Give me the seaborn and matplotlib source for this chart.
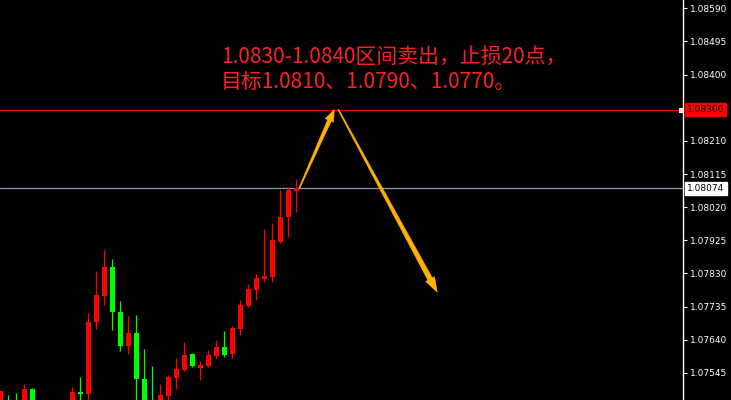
import numpy as np
import pandas as pd
import seaborn as sns
import matplotlib
matplotlib.use('Agg')
import matplotlib.pyplot as plt
from matplotlib.patches import Polygon

# K线数据 (开, 高, 低, 收)
opens = [1.07430, 1.07440, 1.07435, 1.07410, 1.07498, 1.07430, 1.07380, 1.07400, 1.07370, 1.07420,
         1.07490, 1.07484, 1.07691, 1.07766, 1.07848, 1.07720, 1.07622, 1.07659, 1.07528, 1.07460,
         1.07440, 1.07479, 1.07531, 1.07554, 1.07599, 1.07559, 1.07565, 1.07594, 1.07619, 1.07599,
         1.07671, 1.07737, 1.07783, 1.07815, 1.07820, 1.07921, 1.07992, 1.08067]
highs = [1.07496, 1.07481, 1.07487, 1.07513, 1.07501, 1.07455, 1.07420, 1.07440, 1.07430, 1.07504,
         1.07533, 1.07716, 1.07837, 1.07897, 1.07871, 1.07751, 1.07708, 1.07710, 1.07613, 1.07564,
         1.07513, 1.07538, 1.07587, 1.07633, 1.07602, 1.07579, 1.07610, 1.07639, 1.07665, 1.07680,
         1.07753, 1.07799, 1.07828, 1.07957, 1.07974, 1.08069, 1.08078, 1.08100]
lows = [1.07400, 1.07390, 1.07380, 1.07390, 1.07410, 1.07360, 1.07330, 1.07350, 1.07340, 1.07400,
        1.07440, 1.07455, 1.07670, 1.07739, 1.07668, 1.07607, 1.07599, 1.07450, 1.07420, 1.07400,
        1.07420, 1.07460, 1.07498, 1.07551, 1.07562, 1.07525, 1.07563, 1.07588, 1.07591, 1.07588,
        1.07654, 1.07733, 1.07754, 1.07806, 1.07806, 1.07918, 1.07935, 1.08007]
closes = [1.07493, 1.07420, 1.07400, 1.07498, 1.07430, 1.07380, 1.07400, 1.07370, 1.07420, 1.07490,
          1.07485, 1.07690, 1.07768, 1.07848, 1.07720, 1.07622, 1.07659, 1.07528, 1.07450, 1.07430,
          1.07481, 1.07533, 1.07556, 1.07596, 1.07565, 1.07567, 1.07596, 1.07619, 1.07597, 1.07673,
          1.07739, 1.07785, 1.07817, 1.07822, 1.07926, 1.07992, 1.08069, 1.08074]

tick_prices = [1.08590, 1.08495, 1.08400, 1.08210, 1.08115, 1.08020,
               1.07925, 1.07830, 1.07735, 1.07640, 1.07545]
sell_level = 1.08300
last_price = 1.08074

# 箭头 (K线序号, 价格)
arrow_up = [(37.36, 1.08074), (41.74, 1.08300)]
arrow_down = [(42.24, 1.08300), (54.61, 1.07776)]

line1 = '1.0830-1.0840区间卖出，止损20点，'
line2 = '目标1.0810、1.0790、1.0770。'

df = pd.DataFrame({'open': opens, 'high': highs, 'low': lows, 'close': closes})
df['idx'] = np.arange(len(df))
df['up'] = df['close'] >= df['open']

sns.set_theme(style='dark', rc={'axes.facecolor': 'black', 'figure.facecolor': 'black'})
plt.rcParams['font.family'] = ['Noto Sans CJK SC', 'DejaVu Sans']

fig = plt.figure(figsize=(7.31, 4.0), dpi=100)
ax = fig.add_axes([0, 0, 683 / 731, 1])
ax.set_facecolor('black')

colors = np.where(df['up'], '#ff0000', '#00ff00')
ax.vlines(df['idx'], df['low'], df['high'], colors=colors, linewidth=0.9, zorder=2)
body_lo = np.minimum(df['open'], df['close'])
body_h = np.maximum(np.abs(df['close'] - df['open']), 0.00003)
ax.bar(df['idx'], body_h, bottom=body_lo, width=0.62, color=colors, linewidth=0, zorder=3)

ax.axhline(sell_level, color='#ff0000', linewidth=0.8, zorder=1)
ax.axhline(last_price, color='#8a98aa', linewidth=0.9, zorder=1)

ax.set_xlim(-0.05, 85.33)
ax.set_ylim(1.07467, 1.08614)
ax.plot([85.04], [sell_level], marker='s', markersize=3.4, mfc='#ffd0d0', mec='white',
        mew=0.8, zorder=5, clip_on=False)

ax.yaxis.tick_right()
ax.set_yticks(tick_prices)
ax.set_yticklabels([f'{p:.5f}' for p in tick_prices], color='white', fontsize=6.5,
                   family=['DejaVu Sans'])
ax.tick_params(axis='y', colors='white', length=3, width=0.8, pad=2, direction='out')
ax.set_xticks([])
ax.grid(False)
for s in ['left', 'top', 'bottom']:
    ax.spines[s].set_visible(False)
ax.spines['right'].set_color('white')
ax.spines['right'].set_linewidth(1.0)

# 价格标签
ax.annotate(f'{sell_level:.5f}', xy=(1, sell_level), xycoords=('axes fraction', 'data'),
            xytext=(3, 0), textcoords='offset points', ha='left', va='center',
            fontsize=6.5, color='black', family=['DejaVu Sans'],
            bbox=dict(boxstyle='square,pad=0.2', fc='#ff0000', ec='#ff0000'), zorder=6,
            annotation_clip=False)
ax.annotate(f'{last_price:.5f}', xy=(1, last_price), xycoords=('axes fraction', 'data'),
            xytext=(3, 0), textcoords='offset points', ha='left', va='center',
            fontsize=6.5, color='black', family=['DejaVu Sans'],
            bbox=dict(boxstyle='square,pad=0.25', fc='white', ec='white'), zorder=6,
            annotation_clip=False)


def taper_arrow(ax, start, end, color, tail_w=1.0, shaft_w=4.5, head_w=10.0, head_l=14.0):
    p0 = ax.transData.transform(start)
    p1 = ax.transData.transform(end)
    d = p1 - p0
    u = d / np.hypot(*d)
    n = np.array([-u[1], u[0]])
    base = p1 - u * head_l
    pts = [p0 + n * tail_w / 2, base + n * shaft_w / 2, base + n * head_w / 2, p1,
           base - n * head_w / 2, base - n * shaft_w / 2, p0 - n * tail_w / 2]
    pts = ax.transData.inverted().transform(pts)
    ax.add_patch(Polygon(pts, closed=True, fc=color, ec=color, lw=0.4, zorder=4))


taper_arrow(ax, arrow_up[0], arrow_up[1], '#ffb000', shaft_w=4.0, head_w=9.0, head_l=12.0)
taper_arrow(ax, arrow_down[0], arrow_down[1], '#ffb000', shaft_w=5.0, head_w=10.0, head_l=15.0)

fig.text(221 / 731, 1 - 56.5 / 400, line1, color='#ff2020', fontsize=15, ha='left', va='center')
fig.text(221 / 731, 1 - 81.5 / 400, line2, color='#ff2020', fontsize=15, ha='left', va='center')

fig.savefig('out.png', dpi=100, facecolor='black')
